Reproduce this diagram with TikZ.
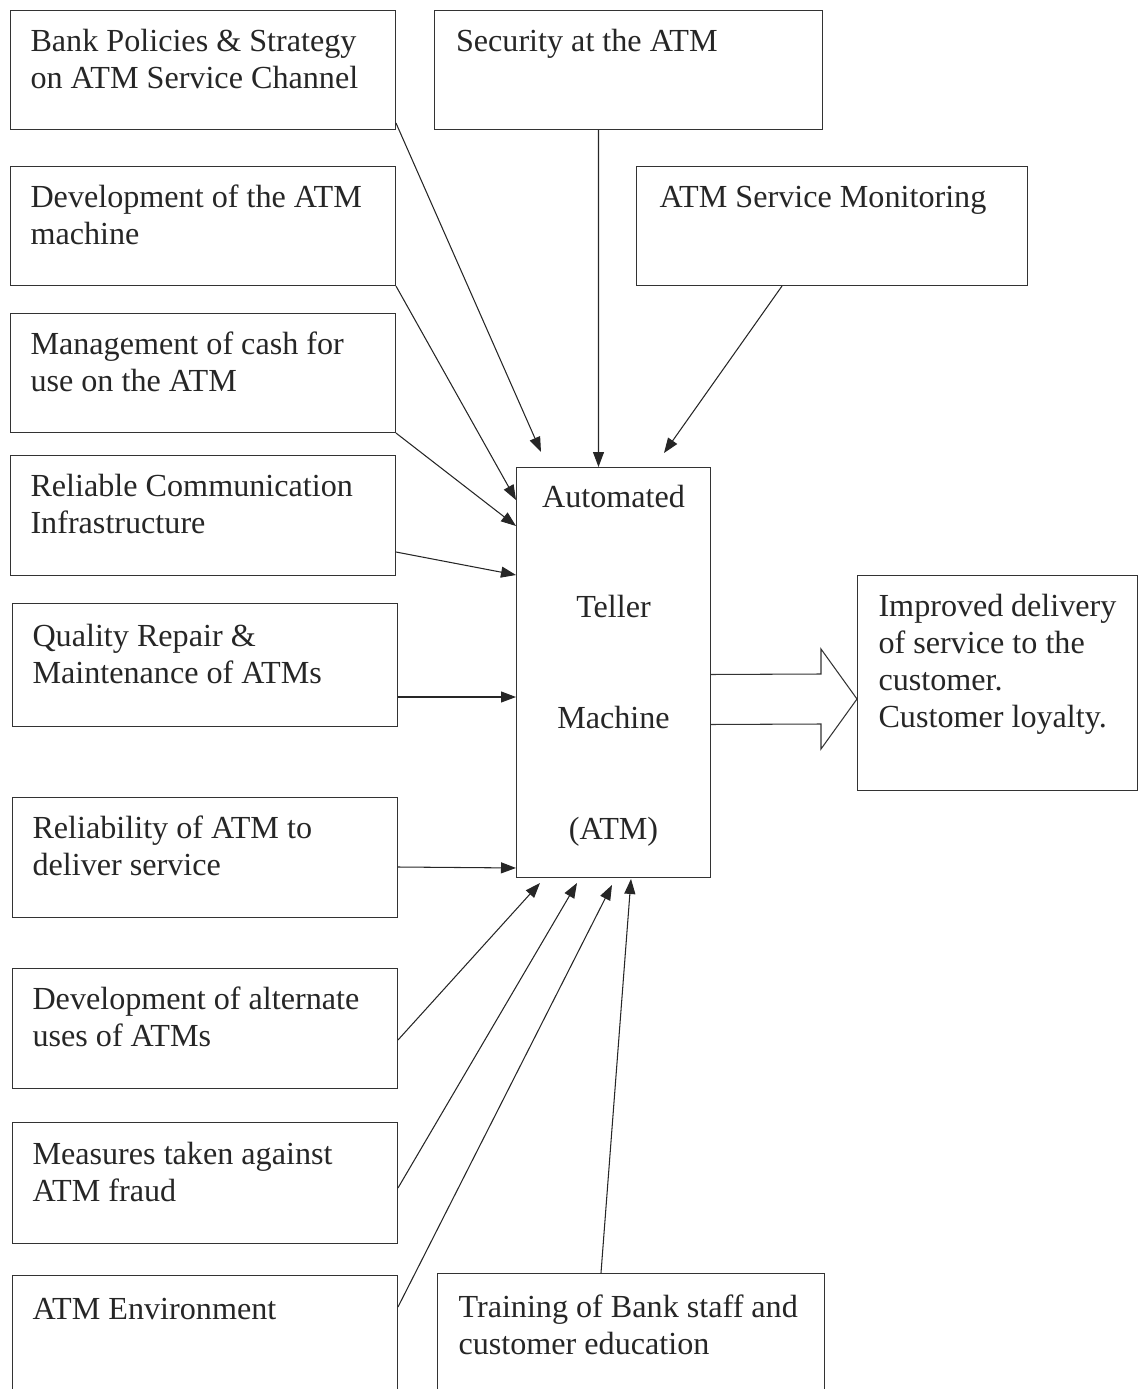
\documentclass[tikz,border=0pt]{standalone}
\usepackage{fontspec}
\setmainfont{Liberation Serif}
\usepackage{tikz}
\usetikzlibrary{calc}
\usetikzlibrary{arrows.meta}
\newcommand{\boxfont}{\fontsize{18.3}{21}\selectfont}
\newcommand{\ftxt}[1]{\parbox[t][1.78cm][t]{6.9cm}{\raggedright\strut #1}}
\tikzset{
  factor/.style={draw=black!80, line width=0.6pt, anchor=north west, inner xsep=0.4cm, inner ysep=0.3cm,
    minimum width=7.7cm, minimum height=2.38cm, font=\boxfont, text=black!85},
  arr/.style={draw=black!85, line width=0.6pt, -{Triangle[length=0.3cm, width=0.22cm]}}
}

\begin{document}
\begin{tikzpicture}[x=0.02cm, y=-0.02cm]
            \useasboundingbox (0,0) rectangle (1138,1389);
            % top row
            \node[factor] (bank) at (10,10) {\ftxt{Bank Policies \& Strategy\\on ATM Service Channel}};
            \node[factor, minimum width=7.76cm] (security) at (434,10) {\ftxt{Security at the ATM}};
            \node[factor, minimum width=7.82cm] (monitor) at (636,166) {\ftxt{ATM Service Monitoring}};
            % left column
            \node[factor] (devatm) at (10,166) {\ftxt{Development of the ATM\\machine}};
            \node[factor, minimum height=2.36cm] (cash) at (10,313) {\ftxt{Management of cash for\\use on the ATM}};
            \node[factor, minimum height=2.4cm] (comm) at (10,455) {\ftxt{Reliable Communication\\Infrastructure}};
            \node[factor, minimum width=7.7cm, minimum height=2.46cm] (repair) at (12,603) {\ftxt{Quality Repair \&\\Maintenance of ATMs}};
            \node[factor, minimum width=7.7cm, minimum height=2.4cm] (reliab) at (12,797) {\ftxt{Reliability of ATM to\\deliver service}};
            \node[factor, minimum width=7.7cm, minimum height=2.4cm] (altuse) at (12,968) {\ftxt{Development of alternate\\uses of ATMs}};
            \node[factor, minimum width=7.7cm, minimum height=2.42cm] (fraud) at (12,1122) {\ftxt{Measures taken against\\ATM fraud}};
            % bottom row
            \node[factor, minimum width=7.7cm, minimum height=2.5cm] (env) at (12,1275) {\ftxt{ATM Environment}};
            \node[factor, minimum width=7.74cm, minimum height=2.5cm] (training) at (437,1273) {\ftxt{Training of Bank staff and\\customer education}};
            % the ATM and the outcome
            \node[draw=black!80, line width=0.6pt, anchor=north west, minimum width=3.88cm, minimum height=8.2cm,
              text=black!85, font=\fontsize{18.3}{63}\selectfont] (atm) at (516,467)
              {\raisebox{0.14cm}[\height][\depth]{\parbox{3.6cm}{\centering Automated\\Teller\\Machine\\(ATM)}}};
            \node[factor, minimum width=5.6cm, minimum height=4.3cm, inner xsep=0.42cm] (result) at (857,575)
              {\parbox[t][3.7cm][t]{4.76cm}{\strut Improved delivery\\of service to the\\customer.\\Customer loyalty.}};
            % arrows into the ATM
            \draw[arr] ($(bank.south east)+(0,-7)$) -- ($(atm.north west)+(25,-15)$);
            \draw[arr] ($(security.south)+(-30,0)$) -- ($(atm.north)+(-15,0)$);
            \draw[arr] ($(monitor.south)+(-50,0)$) -- ($(atm.north west)+(148,-14)$);
            \draw[arr] (devatm.south east) -- ($(atm.north west)+(0,33)$);
            \draw[arr] (cash.south east) -- ($(atm.north west)+(0,59)$);
            \draw[arr] ($(comm.north east)+(0,97)$) -- ($(atm.north west)+(0,108)$);
            \draw[arr] ($(repair.north east)+(0,94)$) -- ($(atm.north west)+(0,230)$);
            \draw[arr] ($(reliab.north east)+(0,70)$) -- ($(atm.south west)+(0,-10)$);
            \draw[arr] ($(altuse.north east)+(0,72)$) -- ($(atm.south west)+(24,5)$);
            \draw[arr] ($(fraud.north east)+(0,66)$) -- ($(atm.south west)+(61,5)$);
            \draw[arr] ($(env.north east)+(0,32)$) -- ($(atm.south west)+(96,7)$);
            \draw[arr] ($(training.north)+(-30,0)$) -- ($(atm.south west)+(115,1)$);
            % block arrow to the outcome
            \draw[draw=black!80, line width=0.6pt] ($(atm.east)+(0,2)$) -- (821,674) -- (821,649) -- (result.west |- 0,699)
              -- (821,749) -- (821,724) -- ($(atm.east)+(0,52)$);
\end{tikzpicture}
\end{document}
